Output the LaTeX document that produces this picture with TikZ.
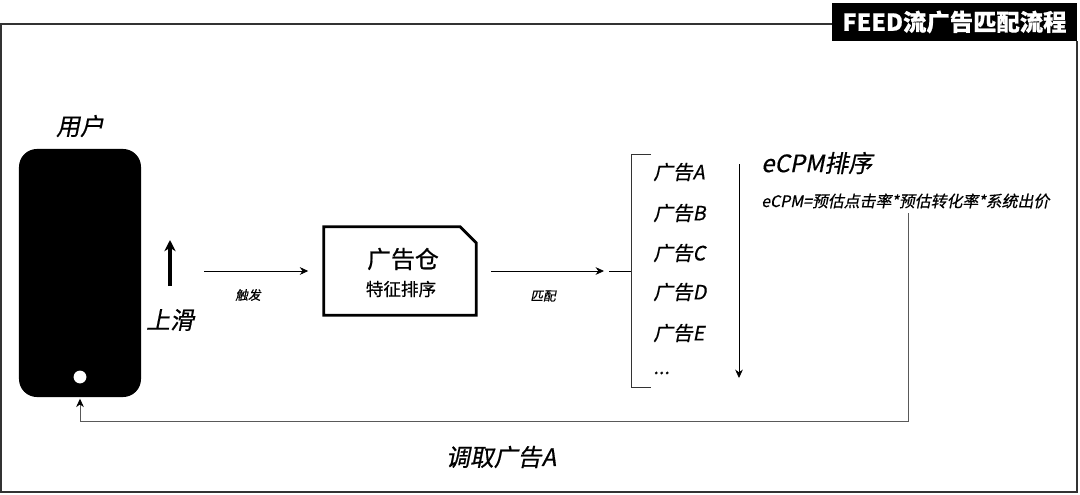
\documentclass[tikz,border=0pt]{standalone}
\usepackage{fontspec}
\usepackage{tikz}
\usetikzlibrary{shapes,arrows.meta,positioning}
\newfontfamily\cjk[FakeBold=0.6]{Noto Sans CJK SC}
\newfontfamily\cjkit[FakeSlant=0.2,FakeBold=0.6]{Noto Sans CJK SC}

\begin{document}
\begin{tikzpicture}[
    x=0.025cm, y=-0.025cm,
    lab/.style={inner sep=0pt, font=\cjkit\fontsize{#1}{#1}\selectfont},
    flow/.style={draw=black, line width=0.6pt, -{Stealth[length=6pt,width=5.5pt,color=black]}},
    >=Stealth
]
    \useasboundingbox (0,0) rectangle (1080,494);

    % title and frame
    \node[fill=black, text=white, minimum width=6.12cm, minimum height=0.95cm, inner sep=0pt,
        font=\cjk\bfseries\fontsize{16.6}{17}\selectfont] (title) at (954.5,22) {FEED流广告匹配流程};
    \coordinate (framestart) at (832,24);
    \coordinate (frameend) at (1077,41);
    \draw[line width=0.8pt, black!80] (framestart) -- (1,24) -- (1,492) -- (1077,492) -- (frameend);

    % user side
    \node[fill=black, rounded corners=0.45cm, minimum width=3.05cm, minimum height=6.2cm, inner sep=0pt] (phone) at (80,273) {};
    \node[circle, fill=white, minimum size=0.32cm, inner sep=0pt] (homekey) at (80,377) {};
    \node[lab=17] (user) at (80,126) {用户};
    \node[lab=17] (swipe) at (170,320) {上滑};
    \coordinate (swipefoot) at (170,286);
    \coordinate (swipetip) at (170,240);
    \draw[line width=2.4pt, -{Stealth[length=8pt,width=8pt]}] (swipefoot) -- (swipetip);

    % ad store
    \node[minimum width=3.8cm, minimum height=2.2cm, inner sep=0pt] (store) at (400,271) {};
    \draw[line width=2pt, line join=miter] (store.north west) -- ([xshift=-11.5pt]store.north east)
        -- ([yshift=-11.5pt]store.north east) -- (store.south east) -- (store.south west) -- cycle;
    \node[inner sep=0pt, font=\cjk\fontsize{17}{17}\selectfont] (storename) at (403,259) {广告仓};
    \node[inner sep=0pt, font=\cjk\fontsize{12.5}{13}\selectfont] (storesub) at (401,289) {特征排序};

    % ad list
    \node[lab=14, anchor=west] (ada) at (653,172) {广告A};
    \node[lab=14, anchor=west] (adb) at (653,213) {广告B};
    \node[lab=14, anchor=west] (adc) at (653,253) {广告C};
    \node[lab=14, anchor=west] (add) at (653,292) {广告D};
    \node[lab=14, anchor=west] (ade) at (653,333) {广告E};
    \node[lab=14, anchor=west] (adf) at (653,373) {...};
    \coordinate (brtop) at (651,154);
    \coordinate (brbot) at (651,387);
    \coordinate (brmid) at (631,271);
    \coordinate (brfeed) at (609,271);
    \draw[line width=0.7pt, black!80] (brtop) -- (631,154) -- (631,387) -- (brbot);
    \draw[line width=0.6pt] (brfeed) -- (brmid);

    % ecpm
    \node[lab=17, anchor=west] (rank) at (761,163) {eCPM排序};
    \node[lab=11.3, anchor=west] (formula) at (761,201) {eCPM=预估点击率*预估转化率*系统出价};
    \coordinate (ranktop) at (739,164);
    \coordinate (rankend) at (739,378);
    \draw[flow] (ranktop) -- (rankend);

    % flow arrows
    \coordinate (trigger) at (204,271);
    \coordinate (matchfrom) at (491,271);
    \coordinate (matchto) at (604,271);
    \draw[flow, shorten >=11pt] (trigger) -- (store.west);
    \node[lab=9] (triggerlab) at (248,295) {触发};
    \draw[flow] (matchfrom) -- (matchto);
    \node[lab=9] (matchlab) at (543,296) {匹配};

    % back to the phone
    \coordinate (backstart) at (908,213);
    \coordinate (backturn) at (80,421);
    \draw[flow, draw=black!65, shorten >=1pt] (backstart) |- (backturn) -- (phone.south);
    \node[lab=17] (backlab) at (501,457) {调取广告A};
\end{tikzpicture}
\end{document}
